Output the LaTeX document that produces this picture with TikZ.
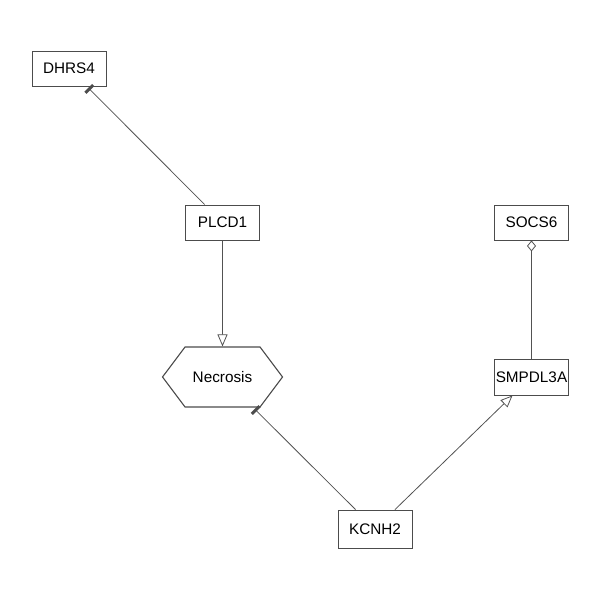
\documentclass[tikz,border=0pt]{standalone}
\usepackage{fontspec}
\setmainfont{Liberation Sans}
\usetikzlibrary{arrows.meta}
\usetikzlibrary{shapes.symbols}
\begin{document}
\begin{tikzpicture}[x=1pt,y=1pt,font=\fontsize{15.3}{17}\selectfont,
	gene/.style={draw=black!70,fill=white,line width=0.9pt,minimum width=74pt,minimum height=35pt,inner sep=1pt},
	pheno/.style={draw=black!70,fill=white,line width=1.1pt,signal,signal to=west and east,signal pointer angle=106.26,minimum width=120pt,minimum height=60pt},
	link/.style={draw=black!68,line width=0.8pt},
	inhibit/.style={link,-{Bar[width=11pt,line width=3pt,black!70]},shorten >=2pt},
	activate/.style={link,-{Triangle[open,width=10pt,length=12pt,fill=white]}},
	bind/.style={link,-{Diamond[open,width=9pt,length=11pt,fill=white]}}]
	\useasboundingbox (0,0) rectangle (600,600);
	\node[gene] (dhrs4) at (69,531.5) {DHRS4};
	\node[gene] (plcd1) at (222.5,377.5) {PLCD1};
	\node[gene] (socs6) at (531.5,377.5) {SOCS6};
	\node[pheno] (necrosis) at (222.5,223) {Necrosis};
	\node[gene,minimum height=36pt] (smpdl3a) at (531.5,223) {SMPDL3A};
	\node[gene,minimum height=38pt] (kcnh2) at (375,71) {KCNH2};
	\draw[inhibit] (plcd1)--(dhrs4);
	\draw[activate] (plcd1)--(necrosis);
	\draw[inhibit] (kcnh2)--(necrosis);
	\draw[activate] (kcnh2)--(smpdl3a);
	\draw[bind] (smpdl3a)--(socs6);
\end{tikzpicture}
\end{document}
